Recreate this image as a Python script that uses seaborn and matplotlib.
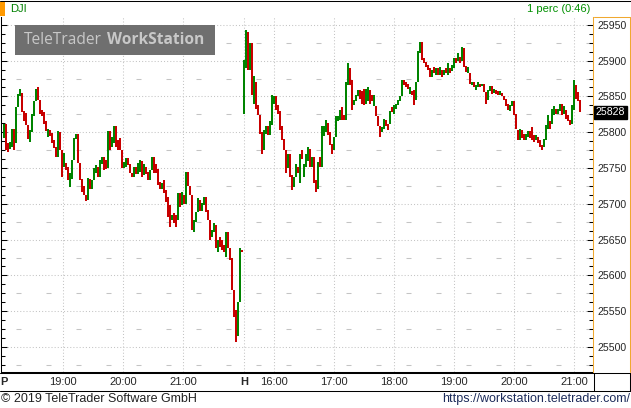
import numpy as np
import pandas as pd
import matplotlib
matplotlib.use("Agg")
import matplotlib.pyplot as plt
from matplotlib.lines import Line2D
from matplotlib.patches import Rectangle
import seaborn as sns

# DJI, 2-minute bars. Friday session (P) starts 18:00, Monday session (H) starts 15:30
fri_open = [25792, 25812, 25785, 25777, 25780, 25805, 25785, 25835, 25850, 25855,
            25830, 25827, 25810, 25787, 25800, 25822, 25843, 25863, 25845, 25831,
            25828, 25815, 25794, 25803, 25799, 25789, 25780, 25766, 25800, 25775,
            25752, 25757, 25752, 25724, 25735, 25761, 25790, 25798, 25757, 25735,
            25725, 25713, 25705, 25735, 25720, 25733, 25743, 25752, 25738, 25755,
            25766, 25761, 25750, 25801, 25780, 25785, 25808, 25789, 25792, 25775,
            25750, 25752, 25764, 25756, 25743, 25738, 25752, 25742, 25745, 25760,
            25740, 25752, 25745, 25733, 25747, 25766, 25756, 25748, 25731, 25720,
            25733, 25719, 25710, 25698, 25677, 25687, 25684, 25677, 25715, 25698,
            25712, 25700, 25745, 25725, 25713, 25661, 25675, 25689, 25705, 25690,
            25698, 25710, 25692, 25677, 25654, 25660, 25670, 25633, 25654, 25649,
            25642, 25626, 25660, 25638, 25625, 25580, 25551, 25515, 25563, 25636]
fri_close = [25812, 25775, 25773, 25787, 25805, 25775, 25835, 25853, 25860, 25828,
             25815, 25810, 25790, 25803, 25826, 25843, 25861, 25845, 25826, 25822,
             25812, 25801, 25805, 25795, 25785, 25778, 25766, 25801, 25775, 25738,
             25771, 25747, 25733, 25743, 25761, 25792, 25798, 25757, 25733, 25717,
             25713, 25704, 25736, 25720, 25733, 25750, 25754, 25738, 25761, 25766,
             25747, 25749, 25801, 25775, 25794, 25808, 25780, 25775, 25775, 25750,
             25759, 25764, 25754, 25743, 25738, 25752, 25742, 25757, 25761, 25738,
             25756, 25742, 25733, 25747, 25766, 25743, 25743, 25726, 25720, 25729,
             25715, 25703, 25682, 25668, 25684, 25673, 25668, 25715, 25696, 25717,
             25700, 25745, 25725, 25713, 25663, 25677, 25689, 25708, 25690, 25701,
             25710, 25689, 25677, 25650, 25663, 25673, 25638, 25649, 25640, 25635,
             25633, 25661, 25638, 25622, 25580, 25542, 25507, 25563, 25638, 25632]

mon_open = [25826, 25890, 25940, 25887, 25924, 25840, 25870, 25838, 25824, 25800,
            25775, 25798, 25808, 25796, 25810, 25840, 25850, 25838, 25830, 25808,
            25790, 25775, 25750, 25770, 25740, 25724, 25738, 25752, 25729, 25775,
            25738, 25752, 25760, 25777, 25752, 25766, 25733, 25720, 25766, 25752,
            25795, 25800, 25813, 25800, 25784, 25775, 25794, 25815, 25817, 25835,
            25824, 25817, 25866, 25889, 25873, 25838, 25843, 25850, 25859, 25857,
            25860, 25840, 25843, 25859, 25852, 25836, 25836, 25822, 25808, 25800,
            25805, 25817, 25812, 25812, 25835, 25826, 25833, 25838, 25843, 25850,
            25873, 25870, 25868, 25854, 25858, 25859, 25845, 25870, 25910, 25926,
            25903, 25898, 25894, 25889, 25877, 25891, 25880, 25889, 25880, 25887,
            25880, 25889, 25880, 25889, 25885, 25890, 25903, 25900, 25905, 25900,
            25917, 25893, 25882, 25882, 25866, 25870, 25859, 25863, 25868, 25864,
            25868, 25856, 25845, 25857, 25864, 25855, 25859, 25857, 25852, 25855,
            25850, 25846, 25840, 25829, 25836, 25843, 25826, 25803, 25789, 25803,
            25798, 25789, 25794, 25801, 25807, 25796, 25789, 25794, 25789, 25782,
            25780, 25789, 25805, 25815, 25812, 25824, 25833, 25826, 25829, 25840,
            25826, 25831, 25824, 25817, 25812, 25831, 25866, 25856, 25845]
mon_close = [25901, 25943, 25887, 25924, 25852, 25878, 25833, 25824, 25798, 25770,
             25803, 25808, 25796, 25816, 25852, 25850, 25831, 25826, 25803, 25789,
             25775, 25743, 25770, 25738, 25719, 25738, 25756, 25743, 25770, 25762,
             25756, 25770, 25780, 25752, 25766, 25729, 25717, 25759, 25752, 25808,
             25808, 25817, 25796, 25782, 25770, 25794, 25822, 25822, 25831, 25817,
             25817, 25870, 25896, 25866, 25831, 25845, 25852, 25859, 25847, 25840,
             25838, 25861, 25863, 25840, 25843, 25852, 25822, 25808, 25794, 25807,
             25819, 25808, 25803, 25829, 25828, 25838, 25840, 25845, 25850, 25873,
             25866, 25863, 25861, 25863, 25852, 25838, 25870, 25914, 25926, 25901,
             25896, 25891, 25887, 25877, 25887, 25882, 25889, 25880, 25891, 25877,
             25887, 25882, 25896, 25882, 25894, 25903, 25896, 25910, 25896, 25919,
             25891, 25884, 25891, 25868, 25870, 25863, 25866, 25870, 25863, 25868,
             25856, 25840, 25859, 25864, 25854, 25860, 25854, 25852, 25857, 25850,
             25845, 25836, 25831, 25838, 25843, 25824, 25805, 25789, 25805, 25792,
             25789, 25798, 25801, 25792, 25789, 25787, 25796, 25785, 25780, 25775,
             25791, 25810, 25824, 25805, 25833, 25836, 25826, 25833, 25840, 25824,
             25836, 25819, 25815, 25810, 25838, 25873, 25847, 25843, 25828]

fri_minutes = list(range(1, 240, 2))   # minutes after 18:00
mon_minutes = list(range(0, 337, 2))   # minutes after 15:30
mon_offset = 241

fri_ticks = ["19:00", "20:00", "21:00"]
mon_ticks = ["16:00", "17:00", "18:00", "19:00", "20:00", "21:00"]
price_ticks = [25500, 25550, 25600, 25650, 25700, 25750, 25800, 25850, 25900, 25950]
last_price = 25828

W, H = 631, 408
GREEN = "#008400"
RED = "#c80000"
GRID = "#c4c4c4"


def mins(hhmm, start):
    h, m = hhmm.split(":")
    h0, m0 = start.split(":")
    return (int(h) - int(h0)) * 60 + int(m) - int(m0)


rows = []
bar = 0
for pos_list, opens, closes, off in [(fri_minutes, fri_open, fri_close, 0),
                                     (mon_minutes, mon_open, mon_close, mon_offset)]:
    for t, o, c in zip(pos_list, opens, closes):
        move = "up" if c >= o else "down"
        rows.append({"pos": t + off, "price": o, "bar": bar, "move": move})
        rows.append({"pos": t + off, "price": c, "bar": bar, "move": move})
        bar += 1
df = pd.DataFrame(rows)

sns.set_style("white")
plt.rcParams["font.family"] = ["Liberation Sans", "DejaVu Sans"]
plt.rcParams["lines.scale_dashes"] = False

fig = plt.figure(figsize=(W / 100, H / 100), dpi=100)
ax = fig.add_axes([1 / W, (H - 372) / H, 591.5 / W, 355 / H])

# grid
for p in price_ticks:
    ax.axhline(p, color=GRID, lw=0.75, ls=(0, (0.75, 1.5)), zorder=0)
for p in list(np.array(price_ticks) + 25) + [25475]:
    ax.axhline(p, color=GRID, lw=0.75, ls=(10.8, (3.6, 18)), zorder=0)

xt = [1] + [mins(t, "18:00") for t in fri_ticks] + [mon_offset] + \
     [mon_offset + mins(t, "15:30") for t in mon_ticks]
xl = ["P"] + fri_ticks + ["H"] + mon_ticks
for x in xt[1:]:
    ax.axvline(x, color=GRID, lw=0.75, ls=(0, (0.75, 1.5)), zorder=0)

sns.lineplot(data=df, x="pos", y="price", units="bar", estimator=None, hue="move",
             palette={"up": GREEN, "down": RED}, linewidth=1.44, legend=False,
             sort=False, ax=ax, solid_capstyle="butt")

ax.set_xlim(-2.0, 589.5)
ax.set_ylim(25465.1, 25960.9)
ax.set_xlabel("")
ax.set_ylabel("")

ax.set_xticks(xt)
ax.set_xticklabels(xl)
for lab in ax.get_xticklabels():
    if lab.get_text() in ("P", "H"):
        lab.set_fontweight("bold")
ax.tick_params(axis="x", length=0, pad=3.5, labelsize=8)

ax.set_yticks(price_ticks)
ax.set_yticks(np.arange(25475, 25962, 12.5), minor=True)
ax.tick_params(axis="y", which="both", direction="in", left=True, right=True,
               labelleft=False, labelright=True, labelsize=7.6, pad=3.5,
               width=0.75, color="black")
ax.tick_params(axis="y", which="major", length=4)
ax.tick_params(axis="y", which="minor", length=3)

ax.spines["top"].set_visible(False)
ax.spines["left"].set_color("black")
ax.spines["bottom"].set_color("black")
ax.spines["right"].set_color("#f0a830")
for s in ax.spines.values():
    s.set_linewidth(0.75)

ax.text(1.0055, last_price, str(last_price), transform=ax.get_yaxis_transform(),
        va="center", ha="left", color="white", fontsize=7.6,
        bbox=dict(boxstyle="square,pad=0.15", fc="black", ec="black"))


def fx(px):
    return px / W


def fy(py):
    return 1 - py / H


fig.add_artist(Line2D([0, 1], [fy(0.5)] * 2, color="black", lw=0.75))
fig.add_artist(Line2D([fx(593.5), fx(629.5)], [fy(16.5)] * 2, color="#f0a830", lw=0.75))
fig.add_artist(Line2D([fx(629.5)] * 2, [fy(16.5), fy(372)], color="#f0a830", lw=0.75))
fig.add_artist(Line2D([0, fx(629.5)], [fy(372.5)] * 2, color="black", lw=0.75))
fig.add_artist(Line2D([0, 1], [fy(390.5)] * 2, color="black", lw=0.75))
fig.add_artist(Line2D([fx(629.5)] * 2, [fy(372.5), fy(390.5)], color="black", lw=0.75))
fig.add_artist(Line2D([fx(593.5)] * 2, [fy(372.5), fy(390.5)], color="black", lw=0.75))

fig.add_artist(Rectangle((0, fy(16)), fx(5), fy(2) - fy(16), color="#ff9900", lw=0))
fig.text(fx(10), fy(9), "DJI", color="#008000", fontsize=8, va="center")
fig.text(fx(590), fy(9), "1 perc (0:46)", color="#009000", fontsize=8,
         va="center", ha="right")

fig.add_artist(Rectangle((fx(15), fy(55)), fx(200), fy(25) - fy(55), color="#6f6f6f", lw=0))
fig.text(fx(24), fy(40), "TeleTrader", color="#c8c8c8", fontsize=11.2,
         family="Open Sans", va="center")
fig.text(fx(107), fy(40), "WorkStation", color="#c8c8c8", fontsize=11.2,
         family="Open Sans", fontweight="bold", va="center")

fig.text(fx(1), fy(399), "\u00a9 2019 TeleTrader Software GmbH", color="#222222",
         fontsize=9, va="center")
fig.text(fx(630), fy(399), "https://workstation.teletrader.com/", color="#1c2b5a",
         fontsize=9, va="center", ha="right")

fig.savefig("out.png", dpi=100)
